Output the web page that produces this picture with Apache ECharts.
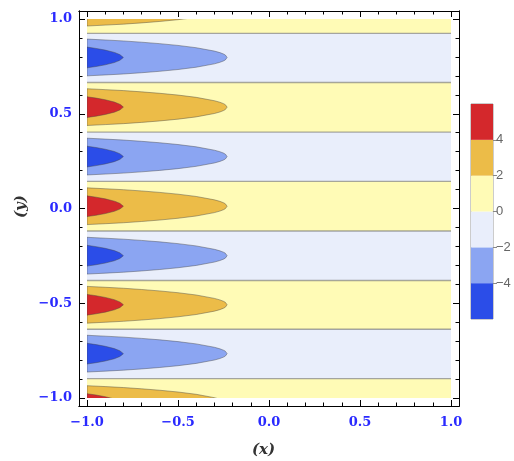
<!DOCTYPE html>
<html>
<head>
<meta charset="utf-8">
<style>html,body{margin:0;padding:0;background:#fff;}#c{width:514px;height:461px;}</style>
<script src="https://cdn.jsdelivr.net/npm/echarts@6/dist/echarts.min.js"></script>
</head>
<body>
<div id="c"></div>
<script>
// ---- data ----
const xTicks = [-1, -0.5, 0, 0.5, 1];
const yTicks = [-1, -0.5, 0, 0.5, 1];
const minorTicks = [-1, -0.9, -0.8, -0.7, -0.6, -0.5, -0.4, -0.3, -0.2, -0.1, 0, 0.1, 0.2, 0.3, 0.4, 0.5, 0.6, 0.7, 0.8, 0.9, 1];
const colorLevels = [-6, -4, -2, 0, 2, 4, 6];
const levelColors = ['#2b4de8', '#8ba5f2', '#e9eefb', '#fffbb6', '#ecbc48', '#d4282c'];
const colorbarLabels = [-4, -2, 0, 2, 4];
// y positions of the zero contour lines (top to bottom)
const zeroLines = [0.924, 0.665, 0.403, 0.143, -0.119, -0.380, -0.637, -0.898];
// centre of each lobe (one per band) and its sign
const lobeCenters = [1.060, 0.797, 0.535, 0.274, 0.012, -0.249, -0.508, -0.766, -1.032];
const lobeSigns = [1, -1, 1, -1, 1, -1, 1, -1, 1];
// half-width of the |f| = 2 contour along x
const shapeX2 = [-1, -0.9, -0.8, -0.7, -0.6, -0.5, -0.4, -0.3, -0.27, -0.25, -0.24, -0.23];
const halfWidth2 = [0.097, 0.0923, 0.0872, 0.0806, 0.0729, 0.0636, 0.0515, 0.0337, 0.0257, 0.0183, 0.0129, 0];
// half-width of the |f| = 4 contour along x
const shapeX4 = [-1, -0.95, -0.9, -0.85, -0.82, -0.81, -0.80];
const halfWidth4 = [0.0547, 0.0477, 0.0389, 0.0268, 0.0152, 0.0079, 0];

// ---- layout ----
const dataLeft = 87, dataRight = 451, dataTop = 19, dataBottom = 398;
const pad = 8;
const pxX = (dataRight - dataLeft) / 2, pxY = (dataBottom - dataTop) / 2;
const xPad = 1 + pad / pxX, yPad = 1 + pad / pxY;

// build regions
const regions = [];
const bounds = [1].concat(zeroLines).concat([-1]);
for (let i = 0; i < lobeSigns.length; i++) {
  regions.push({ type: 'rect', y1: bounds[i], y2: bounds[i + 1], fill: lobeSigns[i] > 0 ? levelColors[3] : levelColors[2] });
}
zeroLines.forEach(z => regions.push({ type: 'hline', y: z }));
function lobe(c, xs, hw, fill) {
  const pts = [];
  for (let j = 0; j < xs.length; j++) pts.push([xs[j], c + hw[j]]);
  for (let j = xs.length - 2; j >= 0; j--) pts.push([xs[j], c - hw[j]]);
  return { type: 'poly', pts: pts, fill: fill };
}
lobeCenters.forEach((c, i) => {
  regions.push(lobe(c, shapeX2, halfWidth2, lobeSigns[i] > 0 ? levelColors[4] : levelColors[1]));
});
lobeCenters.forEach((c, i) => {
  regions.push(lobe(c, shapeX4, halfWidth4, lobeSigns[i] > 0 ? levelColors[5] : levelColors[0]));
});

const edge = 'rgba(70,70,70,0.55)';
function renderRegion(params, api) {
  const r = regions[params.dataIndex];
  if (r.type === 'rect') {
    const p1 = api.coord([-1, r.y1]), p2 = api.coord([1, r.y2]);
    return { type: 'rect', shape: { x: p1[0], y: p1[1], width: p2[0] - p1[0], height: p2[1] - p1[1] }, style: { fill: r.fill } };
  }
  if (r.type === 'hline') {
    const p1 = api.coord([-1, r.y]), p2 = api.coord([1, r.y]);
    return { type: 'line', shape: { x1: p1[0], y1: p1[1], x2: p2[0], y2: p2[1] }, style: { stroke: 'rgba(110,110,110,0.6)', lineWidth: 1.4 } };
  }
  return { type: 'polygon', shape: { points: r.pts.map(p => api.coord(p)) }, style: { fill: r.fill, stroke: edge, lineWidth: 0.8 } };
}

const fmt = v => (v < 0 ? '\u2212' : '') + Math.abs(v).toFixed(1);
const tickFont = { fontFamily: 'DejaVu Serif', fontWeight: 'bold', fontSize: 13, color: '#2a2aff' };

function frameAxis(kind, pos, custom, len, labels) {
  return {
    type: 'value', gridIndex: 1, position: pos,
    min: kind === 'x' ? -xPad : -yPad, max: kind === 'x' ? xPad : yPad,
    axisLine: { show: true, onZero: false, lineStyle: { color: '#000', width: 1 } },
    splitLine: { show: false },
    axisTick: { show: true, inside: true, length: len, customValues: custom, lineStyle: { color: '#000', width: 1 } },
    axisLabel: labels ? Object.assign({ show: true, customValues: custom, formatter: fmt, margin: kind === 'x' ? 10 : 7 }, tickFont) : { show: false }
  };
}

const option = {
  animation: false,
  backgroundColor: '#fff',
  grid: [
    { left: dataLeft, top: dataTop, width: dataRight - dataLeft, height: dataBottom - dataTop, show: false },
    { left: dataLeft - pad, top: dataTop - pad, width: dataRight - dataLeft + 2 * pad, height: dataBottom - dataTop + 2 * pad, show: false },
    { left: 471, top: 104, width: 22, height: 215, show: true, borderColor: '#999', borderWidth: 1 }
  ],
  xAxis: [
    { type: 'value', gridIndex: 0, min: -1, max: 1, show: false },
    frameAxis('x', 'bottom', xTicks, 6, true),
    frameAxis('x', 'bottom', minorTicks, 3.5, false),
    frameAxis('x', 'top', xTicks, 6, false),
    frameAxis('x', 'top', minorTicks, 3.5, false),
    { type: 'value', gridIndex: 2, min: 0, max: 1, show: false }
  ],
  yAxis: [
    { type: 'value', gridIndex: 0, min: -1, max: 1, show: false },
    frameAxis('y', 'left', yTicks, 6, true),
    frameAxis('y', 'left', minorTicks, 3.5, false),
    frameAxis('y', 'right', yTicks, 6, false),
    frameAxis('y', 'right', minorTicks, 3.5, false),
    {
      type: 'value', gridIndex: 2, min: -6, max: 6, position: 'right',
      axisLine: { show: false, onZero: false }, splitLine: { show: false },
      axisTick: { show: true, inside: false, length: 4, customValues: colorbarLabels, lineStyle: { color: '#888' } },
      axisLabel: { show: true, customValues: colorbarLabels, margin: 3, fontFamily: 'Liberation Sans', fontSize: 13, color: '#666', formatter: v => (v < 0 ? '\u2212' : '') + Math.abs(v) }
    }
  ],
  series: [
    {
      type: 'custom', xAxisIndex: 0, yAxisIndex: 0, clip: true, silent: true,
      data: regions.map(() => [0, 0]),
      renderItem: renderRegion
    },
    {
      type: 'custom', xAxisIndex: 5, yAxisIndex: 5, silent: true,
      data: levelColors.map((c, i) => [0.5, (colorLevels[i] + colorLevels[i + 1]) / 2]),
      renderItem: function (params, api) {
        const i = params.dataIndex;
        const p1 = api.coord([0, colorLevels[i + 1]]), p2 = api.coord([1, colorLevels[i]]);
        return { type: 'rect', shape: { x: p1[0], y: p1[1], width: p2[0] - p1[0], height: p2[1] - p1[1] }, style: { fill: levelColors[i] } };
      }
    }
  ],
  graphic: [
    { type: 'text', left: 252, top: 443, style: { text: '(x)', font: 'italic bold 15px "DejaVu Serif"', fill: '#333' } },
    { type: 'text', x: 14, y: 218, rotation: Math.PI / 2, style: { text: '(y)', font: 'italic bold 15px "DejaVu Serif"', fill: '#333' } }
  ]
};

const chart = echarts.init(document.getElementById('c'), null, { renderer: 'canvas' });
chart.setOption(option);
</script>
</body>
</html>
